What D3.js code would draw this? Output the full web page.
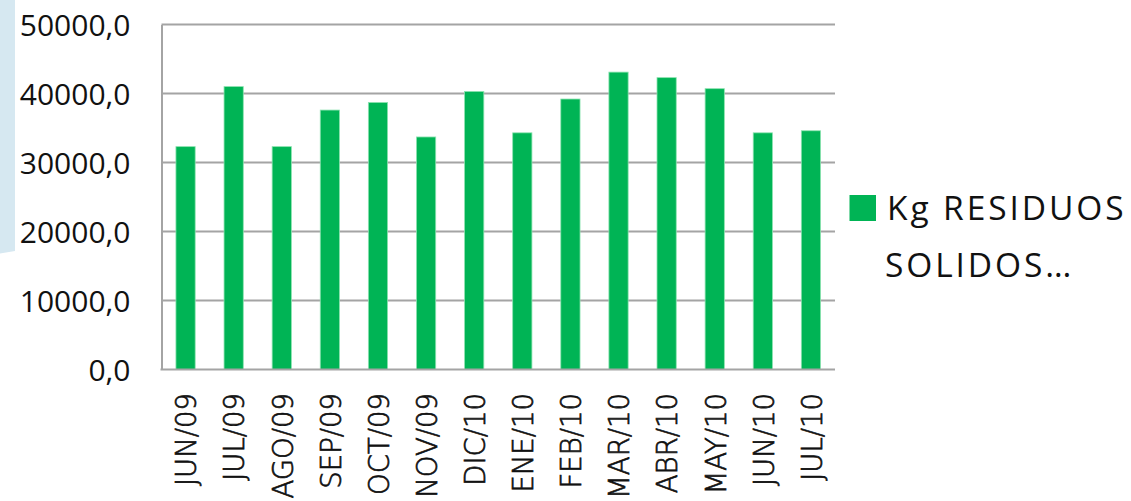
<!DOCTYPE html>
<html>
<head>
<meta charset="utf-8">
<script src="https://cdn.jsdelivr.net/npm/d3@7"></script>
<style>
  html, body { margin: 0; padding: 0; background: #ffffff; }
  svg { display: block; }
</style>
</head>
<body>
<svg id="chart" width="1131" height="501"></svg>
<script>
// Monthly solid waste, kilograms
const months = ["JUN/09","JUL/09","AGO/09","SEP/09","OCT/09","NOV/09","DIC/10",
                "ENE/10","FEB/10","MAR/10","ABR/10","MAY/10","JUN/10","JUL/10"];
const kgResiduos = [32300, 41000, 32300, 37600, 38700, 33700, 40300,
                    34300, 39200, 43100, 42300, 40700, 34300, 34600];
const yTicks = [0, 10000, 20000, 30000, 40000, 50000];
const seriesName = ["Kg RESIDUOS", "SOLIDOS…"];

const svg = d3.select("#chart");
const plot = { left: 161.5, right: 835, top: 24.5, bottom: 369.5 };

// decorative slide panel at the left edge
svg.append("path")
  .attr("d", "M0,0 L15,0 L15,251 L0,253.5 Z")
  .attr("fill", "#d6e8f1");

const x = d3.scaleBand()
  .domain(months)
  .range([plot.left, plot.right])
  .paddingInner(0.6)
  .paddingOuter(0.3);

const y = d3.scaleLinear()
  .domain([0, 50000])
  .range([plot.bottom, plot.top]);

const fmt = v => d3.format(".1f")(v).replace(".", ",");

// horizontal gridlines
svg.append("g")
  .selectAll("line")
  .data(yTicks.filter(t => t > 0))
  .join("line")
  .attr("x1", plot.left).attr("x2", plot.right)
  .attr("y1", d => y(d)).attr("y2", d => y(d))
  .attr("stroke", "#a4a4a4")
  .attr("stroke-width", 2);

// bars
svg.append("g")
  .selectAll("rect")
  .data(months)
  .join("rect")
  .attr("x", d => x(d))
  .attr("width", x.bandwidth())
  .attr("y", (d, i) => y(kgResiduos[i]))
  .attr("height", (d, i) => y(0) - y(kgResiduos[i]))
  .attr("fill", "#00b455")
  .attr("stroke", "#8de3b0")
  .attr("stroke-width", 0.8);

// value axis
const yAxis = d3.axisLeft(y).tickValues(yTicks).tickFormat(fmt).tickSize(0).tickPadding(31);
const gy = svg.append("g").attr("transform", `translate(${plot.left},0)`).call(yAxis);
gy.select(".domain").attr("stroke", "#a4a4a4").attr("stroke-width", 2);
gy.selectAll("text")
  .attr("font-family", "Open Sans")
  .attr("font-size", 30)
  .attr("fill", "#111")
  .attr("dy", "0.36em");

// category axis, labels read bottom to top
const xAxis = d3.axisBottom(x).tickSize(0).tickSizeOuter(0);
const gx = svg.append("g").attr("transform", `translate(0,${plot.bottom})`).call(xAxis);
gx.select(".domain").attr("stroke", "#a4a4a4").attr("stroke-width", 2)
  .attr("d", `M${plot.left - 1},0H${plot.right}`);
gx.selectAll(".tick text")
  .attr("font-family", "DejaVu Sans")
  .attr("font-weight", 200)
  .attr("font-size", 27.5)
  .attr("fill", "#111")
  .attr("stroke", "#111")
  .attr("stroke-width", 0.7)
  .attr("text-anchor", "end")
  .attr("x", null).attr("y", null).attr("dy", null)
  .attr("transform", "translate(10.8,23.5) rotate(-90)");

// legend
const lg = svg.append("g");
lg.append("rect")
  .attr("x", 849.5).attr("y", 195)
  .attr("width", 26.5).attr("height", 26)
  .attr("fill", "#00b455");
lg.selectAll("text")
  .data(seriesName)
  .join("text")
  .attr("x", (d, i) => i === 0 ? 887 : 885)
  .attr("y", (d, i) => 219.5 + i * 57)
  .attr("font-family", "Open Sans")
  .attr("font-size", 33.5)
  .attr("letter-spacing", 2.9)
  .attr("fill", "#111")
  .text(d => d);
</script>
</body>
</html>
